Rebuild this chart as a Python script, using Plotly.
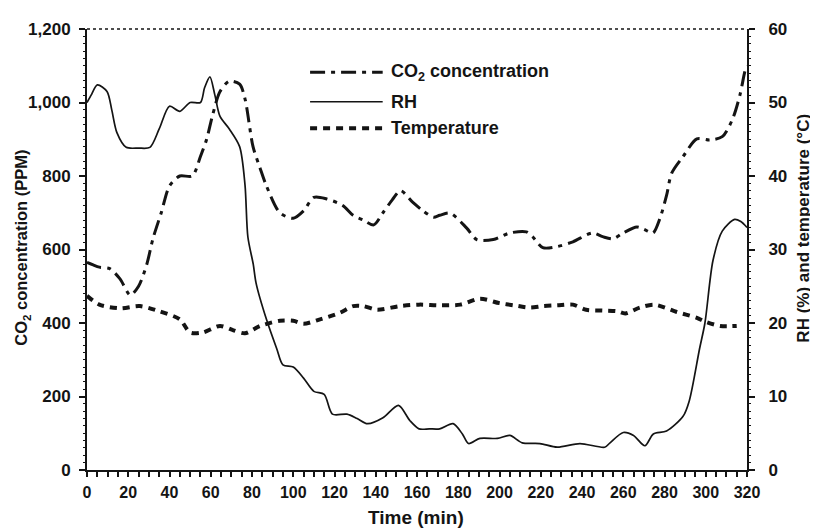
import plotly.graph_objects as go

# ---- data ----
co2_t = [0, 3, 6, 11, 16, 21, 25, 29, 32, 36, 40, 45, 51, 55, 58, 61, 64.5, 69, 74, 76.6,
         80.5, 84, 87, 93.5, 100, 105, 110, 116, 124, 129, 134, 139, 143.5, 148, 152, 158,
         163, 168, 171, 176, 184, 189, 197, 205, 213, 216, 221, 228, 235.6, 245, 250, 255,
         260, 266.6, 270, 274.4, 277.8, 281, 283.5, 289, 295.7, 302, 308, 313, 316.6, 319, 320]
co2_v = [565, 558, 552, 548, 520, 476, 500, 560, 630, 700, 773, 800, 800, 853, 900, 968, 1030,
         1058, 1050, 1010, 880, 820, 773, 700, 685, 705, 742, 738, 720, 693, 680, 667, 700, 735,
         760, 728, 705, 688, 693, 699, 659, 627, 627, 645, 648, 635, 605, 608, 621, 645, 635,
         629, 645, 661, 655, 645, 685, 747, 808, 853, 901, 898, 907, 955, 1021, 1085, 1100]

rh_t = [0, 2, 5, 9.7, 12, 14.5, 19, 25, 30.5, 35, 40, 45, 50, 55, 57, 59.6, 62, 64.5, 69, 74,
        76.6, 78, 80.6, 82, 87, 92, 95, 100, 105, 110, 115, 119, 126, 131, 136, 143.5, 151,
        156.6, 161, 166, 171, 177.5, 182, 185, 190.5, 199, 205, 211, 219.6, 228, 239, 251,
        253.6, 260, 265, 270.5, 274.6, 281, 289, 292, 297, 299.6, 303.5, 308, 314, 317, 320]
rh_v = [50, 51, 52.4, 51.5, 49, 45.9, 43.9, 43.8, 43.9, 46.4, 49.5, 48.8, 50, 50, 52, 53.5, 51,
        48.1, 46.4, 44, 38.8, 31.7, 28, 25.4, 20.5, 16.5, 14.3, 14, 12.5, 10.7, 10.3, 7.6, 7.6,
        7, 6.3, 7.1, 8.8, 6.7, 5.6, 5.6, 5.6, 6.3, 4.9, 3.6, 4.3, 4.3, 4.7, 3.7, 3.6, 3.1, 3.6,
        3.1, 3.7, 5.1, 4.7, 3.3, 4.9, 5.3, 7.3, 9.4, 16.5, 20, 28.5, 32.5, 34.1, 33.8, 33]

temp_t = [0, 6, 16, 25.7, 35, 45, 50, 56, 64.5, 71, 76.6, 84, 93.5, 100, 105, 113, 122.7, 129,
          134, 140.6, 151.7, 161, 171, 181, 190.5, 200, 207, 214.8, 221, 228, 235.6, 242, 250,
          257, 261, 268, 275, 286, 295.7, 299.6, 307, 315]
temp_v = [23.7, 22.5, 22, 22.3, 21.6, 20.5, 18.7, 18.7, 19.6, 19, 18.6, 19.6, 20.3, 20.3, 19.9,
          20.5, 21.4, 22.3, 22.3, 21.8, 22.3, 22.5, 22.4, 22.5, 23.3, 22.7, 22.4, 22.1, 22.3,
          22.4, 22.5, 21.8, 21.7, 21.6, 21.3, 22.1, 22.5, 21.5, 20.7, 20.2, 19.6, 19.6]

x_ticks = list(range(0, 321, 20))
left_ticks = [0, 200, 400, 600, 800, 1000, 1200]
left_labels = ["0", "200", "400", "600", "800", "1,000", "1,200"]
right_ticks = [0, 10, 20, 30, 40, 50, 60]

legend_names = ["CO<sub>2</sub> concentration", "RH", "Temperature"]
x_title = "Time (min)"
y_title = "CO<sub>2</sub> concentration (PPM)"
y2_title = "RH (%) and temperature (°C)"

INK = "#141414"
FONT = "Liberation Sans"
CO2_DASH = "15px,6px,4px,6px"
TEMP_DASH = "7px,6px"

fig = go.Figure()
fig.add_trace(go.Scatter(x=co2_t, y=co2_v, mode="lines", yaxis="y",
                         line=dict(color=INK, width=3, dash=CO2_DASH, shape="spline", smoothing=0.8),
                         name="CO2", showlegend=False))
fig.add_trace(go.Scatter(x=rh_t, y=rh_v, mode="lines", yaxis="y2",
                         line=dict(color=INK, width=1.7, shape="spline", smoothing=0.8),
                         name="RH", showlegend=False))
fig.add_trace(go.Scatter(x=temp_t, y=temp_v, mode="lines", yaxis="y2",
                         line=dict(color=INK, width=4, dash=TEMP_DASH, shape="spline", smoothing=0.8),
                         name="Temperature", showlegend=False))

xtickfont = dict(family=FONT, size=16, color=INK, weight="bold")
ytickfont = dict(family=FONT, size=17, color=INK, weight="bold")

fig.update_layout(
    width=810, height=520,
    margin=dict(l=79, r=71, t=13, b=58),
    paper_bgcolor="white", plot_bgcolor="white",
    xaxis=dict(range=[0, 320], tickvals=x_ticks, ticks="outside", ticklen=5, tickwidth=1.5,
               tickcolor=INK, showline=True, linecolor=INK, linewidth=2, showgrid=False,
               zeroline=False, tickfont=xtickfont, ticklabelstandoff=2,
               minor=dict(dtick=5, ticks="outside", ticklen=5, tickwidth=1.5, tickcolor=INK)),
    xaxis2=dict(range=[0, 320], overlaying="x", anchor="y", side="bottom",
                tickvals=list(range(0, 321, 5)), ticks="inside", ticklen=5, tickwidth=1.5,
                tickcolor=INK, showticklabels=False, showgrid=False, zeroline=False,
                showline=False),
    yaxis=dict(range=[0, 1200], tickvals=left_ticks, ticktext=left_labels, ticks="outside",
               ticklen=6, tickwidth=1.5, tickcolor=INK, showline=True, linecolor=INK,
               linewidth=2, showgrid=False, zeroline=False, tickfont=ytickfont,
               ticklabelstandoff=5,
               minor=dict(dtick=20, ticks="outside", ticklen=2, tickwidth=1, tickcolor=INK)),
    yaxis2=dict(range=[0, 60], overlaying="y", side="right", anchor="x", tickvals=right_ticks,
                ticks="outside", ticklen=6, tickwidth=1.5, tickcolor=INK, showline=True,
                linecolor=INK, linewidth=2, showgrid=False, zeroline=False, tickfont=ytickfont,
                ticklabelstandoff=10,
                minor=dict(dtick=1, ticks="outside", ticklen=2, tickwidth=1, tickcolor=INK)),
)

# axis titles
fig.add_annotation(xref="paper", yref="paper", x=0.499, y=-0.107, text=x_title, showarrow=False,
                   xanchor="center", yanchor="middle",
                   font=dict(family=FONT, size=19, color=INK, weight="bold"))
fig.add_annotation(xref="paper", yref="paper", x=-0.0985, y=0.504, text=y_title, showarrow=False,
                   textangle=-90, xanchor="center", yanchor="middle",
                   font=dict(family=FONT, size=16.5, color=INK, weight="bold"))
fig.add_annotation(xref="paper", yref="paper", x=1.086, y=0.549, text=y2_title, showarrow=False,
                   textangle=-90, xanchor="center", yanchor="middle",
                   font=dict(family=FONT, size=17, color=INK, weight="bold"))

# dotted frame line along the top
fig.add_shape(type="line", xref="paper", yref="paper", x0=0, x1=1, y0=1, y1=1,
              line=dict(color=INK, width=1.5, dash="dot"))

# hand-drawn style legend (long samples as in the reference)
leg_y = [0.902, 0.835, 0.775]
leg_styles = [dict(width=3, dash=CO2_DASH), dict(width=1.7, dash="solid"), dict(width=4, dash=TEMP_DASH)]
for name, yy, st in zip(legend_names, leg_y, leg_styles):
    fig.add_shape(type="line", xref="paper", yref="paper", x0=0.338, x1=0.448, y0=yy, y1=yy,
                  line=dict(color=INK, **st))
    fig.add_annotation(xref="paper", yref="paper", x=0.457, y=yy, text=name, showarrow=False,
                       xanchor="left", yanchor="middle",
                       font=dict(family=FONT, size=18, color=INK, weight="bold"))

fig.write_html("out.html")
